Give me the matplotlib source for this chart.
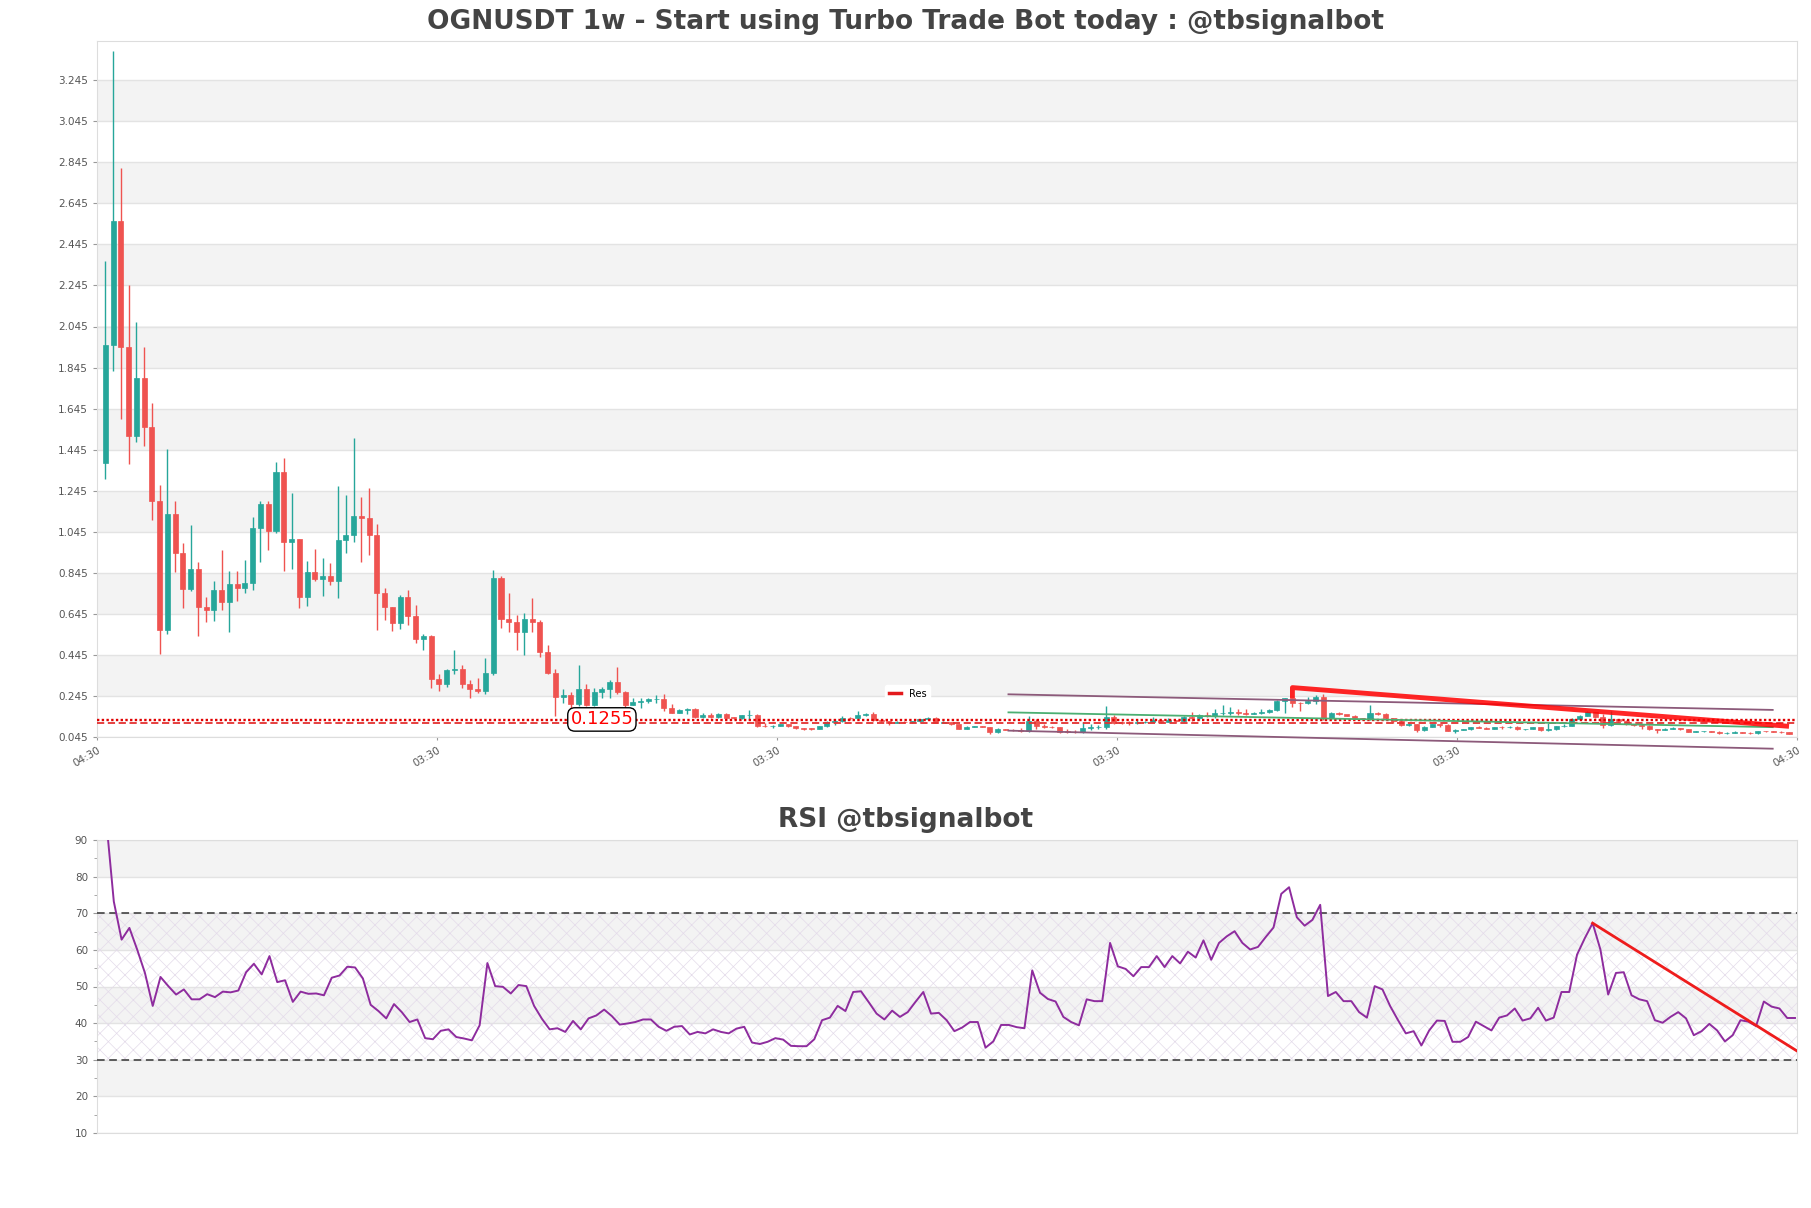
import matplotlib
matplotlib.use('Agg')
import matplotlib.pyplot as plt
import numpy as np
from matplotlib.lines import Line2D


# NOTE Plot info
title     = 'OGNUSDT 1w - Start using Turbo Trade Bot today : @tbsignalbot'
rsi_title = 'RSI @tbsignalbot'
filename  = 'out.png'

# NOTE Data (weekly candles)
first_open = 1.38
closes = [1.956, 2.558, 1.947, 1.510, 1.795, 1.554, 1.195, 0.564, 1.132, 0.941,
          0.767, 0.864, 0.677, 0.664, 0.760, 0.701, 0.791, 0.771, 0.797, 1.065,
          1.180, 1.049, 1.336, 0.993, 1.010, 0.728, 0.849, 0.815, 0.830, 0.804,
          1.006, 1.028, 1.121, 1.110, 1.028, 0.745, 0.680, 0.601, 0.728, 0.636,
          0.523, 0.538, 0.327, 0.305, 0.370, 0.378, 0.302, 0.277, 0.269, 0.355,
          0.818, 0.618, 0.605, 0.556, 0.621, 0.605, 0.459, 0.358, 0.242, 0.251,
          0.204, 0.277, 0.201, 0.264, 0.277, 0.313, 0.264, 0.203, 0.215, 0.219,
          0.229, 0.232, 0.187, 0.164, 0.178, 0.180, 0.143, 0.150, 0.144, 0.156,
          0.140, 0.138, 0.150, 0.152, 0.099, 0.097, 0.100, 0.107, 0.100, 0.088,
          0.086, 0.085, 0.097, 0.120, 0.122, 0.138, 0.136, 0.154, 0.157, 0.128,
          0.122, 0.115, 0.120, 0.117, 0.122, 0.131, 0.140, 0.115, 0.118, 0.107,
          0.086, 0.094, 0.097, 0.095, 0.067, 0.084, 0.081, 0.077, 0.075, 0.125,
          0.099, 0.095, 0.093, 0.071, 0.070, 0.068, 0.090, 0.092, 0.093, 0.141,
          0.115, 0.113, 0.112, 0.117, 0.120, 0.126, 0.120, 0.128, 0.124, 0.144,
          0.139, 0.152, 0.148, 0.160, 0.163, 0.166, 0.162, 0.159, 0.163, 0.168,
          0.177, 0.222, 0.234, 0.212, 0.210, 0.222, 0.238, 0.136, 0.163, 0.157,
          0.149, 0.136, 0.134, 0.164, 0.158, 0.136, 0.125, 0.104, 0.110, 0.078,
          0.095, 0.107, 0.105, 0.074, 0.079, 0.083, 0.094, 0.090, 0.085, 0.094,
          0.093, 0.096, 0.083, 0.084, 0.093, 0.078, 0.083, 0.098, 0.100, 0.135,
          0.148, 0.167, 0.144, 0.102, 0.131, 0.123, 0.107, 0.105, 0.100, 0.082,
          0.080, 0.085, 0.088, 0.085, 0.070, 0.072, 0.073, 0.071, 0.063, 0.065,
          0.068, 0.066, 0.063, 0.074, 0.072, 0.070, 0.067, 0.062]
highs = [2.365, 3.386, 2.817, 2.245, 2.067, 1.945, 1.673, 1.273, 1.449, 1.195,
         0.991, 1.080, 0.897, 0.727, 0.806, 0.956, 0.854, 0.854, 0.908, 1.115,
         1.197, 1.195, 1.386, 1.404, 1.234, 1.010, 0.901, 0.962, 0.919, 0.893,
         1.267, 1.223, 1.501, 1.212, 1.256, 1.082, 0.771, 0.680, 0.738, 0.763,
         0.690, 0.545, 0.540, 0.354, 0.378, 0.469, 0.394, 0.323, 0.334, 0.432,
         0.857, 0.829, 0.748, 0.637, 0.647, 0.723, 0.613, 0.492, 0.375, 0.277,
         0.264, 0.397, 0.305, 0.285, 0.290, 0.323, 0.386, 0.267, 0.237, 0.237,
         0.237, 0.248, 0.253, 0.204, 0.180, 0.186, 0.188, 0.164, 0.160, 0.160,
         0.164, 0.144, 0.154, 0.177, 0.156, 0.114, 0.105, 0.110, 0.110, 0.100,
         0.090, 0.090, 0.100, 0.122, 0.131, 0.148, 0.142, 0.170, 0.164, 0.167,
         0.130, 0.124, 0.124, 0.122, 0.125, 0.134, 0.143, 0.142, 0.122, 0.120,
         0.108, 0.097, 0.100, 0.099, 0.096, 0.087, 0.085, 0.083, 0.090, 0.148,
         0.131, 0.110, 0.097, 0.095, 0.082, 0.080, 0.120, 0.108, 0.103, 0.196,
         0.152, 0.125, 0.122, 0.128, 0.125, 0.141, 0.130, 0.138, 0.130, 0.149,
         0.167, 0.157, 0.165, 0.180, 0.200, 0.193, 0.180, 0.180, 0.167, 0.180,
         0.183, 0.225, 0.236, 0.237, 0.215, 0.238, 0.250, 0.255, 0.168, 0.166,
         0.153, 0.152, 0.138, 0.201, 0.166, 0.160, 0.138, 0.131, 0.115, 0.110,
         0.098, 0.110, 0.110, 0.106, 0.085, 0.086, 0.096, 0.097, 0.092, 0.096,
         0.100, 0.099, 0.097, 0.086, 0.096, 0.095, 0.111, 0.101, 0.106, 0.138,
         0.152, 0.171, 0.168, 0.155, 0.172, 0.133, 0.126, 0.109, 0.106, 0.102,
         0.084, 0.087, 0.093, 0.089, 0.086, 0.074, 0.076, 0.074, 0.072, 0.067,
         0.073, 0.069, 0.067, 0.076, 0.075, 0.073, 0.072, 0.068]
lows = [1.300, 1.830, 1.593, 1.375, 1.484, 1.462, 1.104, 0.447, 0.545, 0.847,
        0.675, 0.756, 0.536, 0.604, 0.608, 0.662, 0.556, 0.710, 0.745, 0.760,
        0.897, 0.958, 1.040, 0.854, 0.865, 0.673, 0.684, 0.806, 0.734, 0.784,
        0.723, 0.941, 0.995, 0.897, 0.930, 0.567, 0.615, 0.560, 0.571, 0.593,
        0.501, 0.467, 0.284, 0.271, 0.290, 0.350, 0.286, 0.237, 0.261, 0.253,
        0.345, 0.578, 0.556, 0.469, 0.445, 0.556, 0.435, 0.350, 0.148, 0.213,
        0.188, 0.196, 0.196, 0.196, 0.237, 0.237, 0.253, 0.188, 0.200, 0.188,
        0.210, 0.210, 0.172, 0.160, 0.160, 0.156, 0.138, 0.138, 0.138, 0.140,
        0.135, 0.135, 0.135, 0.135, 0.094, 0.094, 0.091, 0.098, 0.096, 0.083,
        0.080, 0.080, 0.083, 0.095, 0.105, 0.118, 0.130, 0.128, 0.145, 0.124,
        0.118, 0.102, 0.112, 0.112, 0.115, 0.120, 0.128, 0.112, 0.112, 0.104,
        0.083, 0.084, 0.092, 0.092, 0.058, 0.066, 0.079, 0.074, 0.071, 0.071,
        0.082, 0.090, 0.090, 0.063, 0.063, 0.066, 0.066, 0.079, 0.084, 0.084,
        0.108, 0.108, 0.103, 0.108, 0.112, 0.118, 0.115, 0.118, 0.120, 0.120,
        0.125, 0.128, 0.141, 0.136, 0.152, 0.152, 0.152, 0.152, 0.155, 0.157,
        0.163, 0.170, 0.164, 0.193, 0.173, 0.205, 0.206, 0.128, 0.133, 0.152,
        0.146, 0.133, 0.130, 0.128, 0.150, 0.133, 0.115, 0.100, 0.100, 0.070,
        0.076, 0.093, 0.092, 0.072, 0.063, 0.077, 0.081, 0.088, 0.083, 0.083,
        0.086, 0.090, 0.081, 0.077, 0.082, 0.075, 0.076, 0.081, 0.093, 0.097,
        0.132, 0.145, 0.140, 0.090, 0.098, 0.120, 0.105, 0.099, 0.085, 0.080,
        0.063, 0.079, 0.082, 0.080, 0.068, 0.068, 0.070, 0.068, 0.061, 0.062,
        0.063, 0.064, 0.061, 0.062, 0.070, 0.068, 0.064, 0.060]
rsi = [96.0, 73.2, 62.8, 66.0, 60.1, 53.7, 44.7, 52.6, 50.1, 47.8,
       49.2, 46.5, 46.5, 47.9, 47.1, 48.6, 48.4, 48.9, 53.9, 56.2,
       53.3, 58.3, 51.2, 51.7, 45.8, 48.6, 48.0, 48.1, 47.6, 52.4,
       53.0, 55.4, 55.2, 52.2, 45.0, 43.3, 41.3, 45.2, 43.0, 40.3,
       41.0, 35.9, 35.6, 37.9, 38.3, 36.2, 35.8, 35.3, 39.4, 56.4,
       50.1, 49.9, 48.1, 50.4, 50.1, 44.7, 41.2, 38.3, 38.6, 37.6,
       40.6, 38.3, 41.3, 42.1, 43.7, 41.9, 39.6, 39.9, 40.3, 41.0,
       41.0, 39.0, 37.9, 39.0, 39.2, 36.9, 37.6, 37.2, 38.3, 37.6,
       37.2, 38.5, 39.0, 34.7, 34.3, 34.9, 35.9, 35.5, 33.8, 33.7,
       33.7, 35.6, 40.8, 41.5, 44.7, 43.3, 48.5, 48.7, 45.7, 42.6,
       41.0, 43.4, 41.7, 43.0, 45.8, 48.5, 42.6, 42.8, 40.8, 37.8,
       38.8, 40.3, 40.3, 33.3, 35.0, 39.5, 39.5, 38.9, 38.6, 54.4,
       48.3, 46.6, 45.9, 41.7, 40.3, 39.4, 46.5, 46.0, 46.0, 61.9,
       55.5, 54.8, 52.8, 55.3, 55.3, 58.3, 55.3, 58.3, 56.3, 59.5,
       57.9, 62.6, 57.3, 61.9, 63.7, 65.1, 61.9, 60.1, 60.8, 63.5,
       66.1, 75.3, 77.1, 68.9, 66.6, 68.2, 72.3, 47.4, 48.5, 46.0,
       46.0, 43.0, 41.5, 50.1, 49.2, 44.6, 40.8, 37.2, 37.8, 33.9,
       38.0, 40.7, 40.6, 34.9, 34.9, 36.2, 40.4, 39.2, 38.0, 41.5,
       42.1, 44.0, 40.7, 41.3, 44.2, 40.7, 41.5, 48.5, 48.5, 58.7,
       63.2, 67.3, 60.1, 47.8, 53.7, 53.9, 47.6, 46.5, 46.0, 40.8,
       40.1, 41.7, 43.0, 41.3, 36.7, 37.8, 39.8, 38.0, 35.0, 36.7,
       40.8, 40.4, 39.2, 45.9, 44.5, 44.0, 41.4, 41.4]
x_labels = ['04:30', '03:30', '03:30', '03:30', '03:30', '04:30']

# drawn levels and trend lines (candle index, price)
level       = 0.1255
level_low   = 0.113
res_x       = [153, 153, 217]
res_y       = [0.234, 0.2857, 0.097]
chan_x      = [116.4, 214.9]
chan_upper  = [0.253, 0.177]
chan_lower  = [0.076, -0.012]
chan_mid    = [0.165, 0.093]
rsi_trend_x = [191, 217.26]
rsi_trend_y = [67.3, 32.4]

opens = [first_open] + closes[:-1]
n = len(closes)
idx = np.arange(n)

# NOTE Colors
up      = '#26a69a'
down    = '#ef5350'
band    = '#f3f3f3'
grid    = '#e3e3e3'
frame   = '#dddddd'
txt     = '#444444'
ticks   = '#555555'
purple  = '#8e2c9e'


################################################################## Make the plot
W, H = 1811, 1208
fig = plt.figure(figsize=(W / 100, H / 100), dpi=100)
ax  = fig.add_axes([97 / W, 1 - 737 / H, 1700 / W, 696 / H])
ax2 = fig.add_axes([97 / W, 1 - 1133 / H, 1700 / W, 293 / H])

# --- price panel
for y0 in np.arange(0.245, 3.1, 0.4):
    ax.axhspan(y0, y0 + 0.2, color=band, zorder=0, lw=0)
ax.set_yticks(np.arange(0.045, 3.3, 0.2))
ax.yaxis.set_major_formatter(plt.FormatStrFormatter('%.3f'))
ax.grid(axis='y', color=grid, lw=1, zorder=0.5)
ax.set_axisbelow(True)

colors = [up if c >= o else down for o, c in zip(opens, closes)]
ax.vlines(idx, lows, highs, colors=colors, lw=1, zorder=2)
bottoms = np.minimum(opens, closes)
heights = np.maximum(np.abs(np.array(closes) - np.array(opens)), 0.003)
ax.bar(idx, heights, bottom=bottoms, width=0.65, color=colors,
       edgecolor=colors, lw=0.5, zorder=3)

ax.axhline(level, color='#e00000', lw=1.7, ls=(0, (1, 1)), zorder=4)
ax.axhline(level_low, color='#e33030', lw=1.3, ls=(0, (4, 2)), zorder=4)
ax.text(64, level + 0.005, f'{level}', color='red', fontsize=13, ha='center',
        va='center', zorder=6,
        bbox=dict(boxstyle='round,pad=0.15,rounding_size=0.4', fc='white',
                  ec='black', lw=1))

ax.plot(chan_x, chan_upper, color='#8c5a7a', lw=1.3, zorder=4, clip_on=False)
ax.plot(chan_x, chan_lower, color='#8c5a7a', lw=1.3, zorder=4, clip_on=False)
ax.plot(chan_x, chan_mid, color='#4caf72', lw=1.3, zorder=4)
ax.plot(res_x, res_y, color='red', lw=3.5, alpha=0.85, zorder=5,
        solid_capstyle='butt')
ax.legend([Line2D([], [], color='#e31a1c', lw=2.5)], ['Res'], loc='center',
          bbox_to_anchor=(0.477, 0.062), fontsize=7, frameon=True,
          facecolor='white', edgecolor='white', framealpha=1, handlelength=1.2)

ax.set_xlim(-1.07, n - 1 + 1.03)
ax.set_ylim(0.045, 0.045 + 696 / 205.25)
ax.set_xticks(np.linspace(*ax.get_xlim(), 6))
ax.set_xticklabels(x_labels, rotation=30, ha='right', rotation_mode='anchor',
                   fontsize=7.5, color=ticks)
ax.tick_params(axis='y', labelsize=7.5, labelcolor=ticks, color='#999999', length=3)
ax.tick_params(axis='x', color='#999999', length=2)

# --- RSI panel
for y0 in [20, 40, 60, 80]:
    ax2.axhspan(y0, y0 + 10, color=band, zorder=0, lw=0)
plt.rcParams['hatch.linewidth'] = 0.5
ax2.axhspan(30, 70, facecolor='none', hatch='xx', edgecolor='#e4dbea', lw=0,
            zorder=0.6)
ax2.set_yticks(np.arange(10, 91, 10))
ax2.set_yticks(np.arange(15, 90, 10), minor=True)
ax2.grid(axis='y', color=grid, lw=1, zorder=0.5)
ax2.set_axisbelow(True)
ax2.axhline(70, color='#333333', lw=1.1, ls=(0, (5, 3)), zorder=3)
ax2.axhline(30, color='#333333', lw=1.1, ls=(0, (5, 3)), zorder=3)
ax2.plot(idx, rsi, color=purple, lw=1.4, zorder=4)
ax2.plot(rsi_trend_x, rsi_trend_y, color='#ee1c1c', lw=2, zorder=5)
ax2.set_xlim(-1.16, n - 1 + 0.26)
ax2.set_ylim(10, 90)
ax2.set_xticks([])
ax2.tick_params(axis='y', which='both', labelsize=7.5, labelcolor=ticks,
                color='#999999', length=3)
ax2.tick_params(axis='y', which='minor', length=2)

for a in (ax, ax2):
    for s in a.spines.values():
        s.set_color(frame)

fig.text(0.5, 1 - 22 / H, title, ha='center', va='center', fontsize=19,
         fontweight='bold', color=txt)
fig.text(0.5, 1 - 820 / H, rsi_title, ha='center', va='center', fontsize=19,
         fontweight='bold', color=txt)

plt.savefig(filename, dpi=100, facecolor='white')
